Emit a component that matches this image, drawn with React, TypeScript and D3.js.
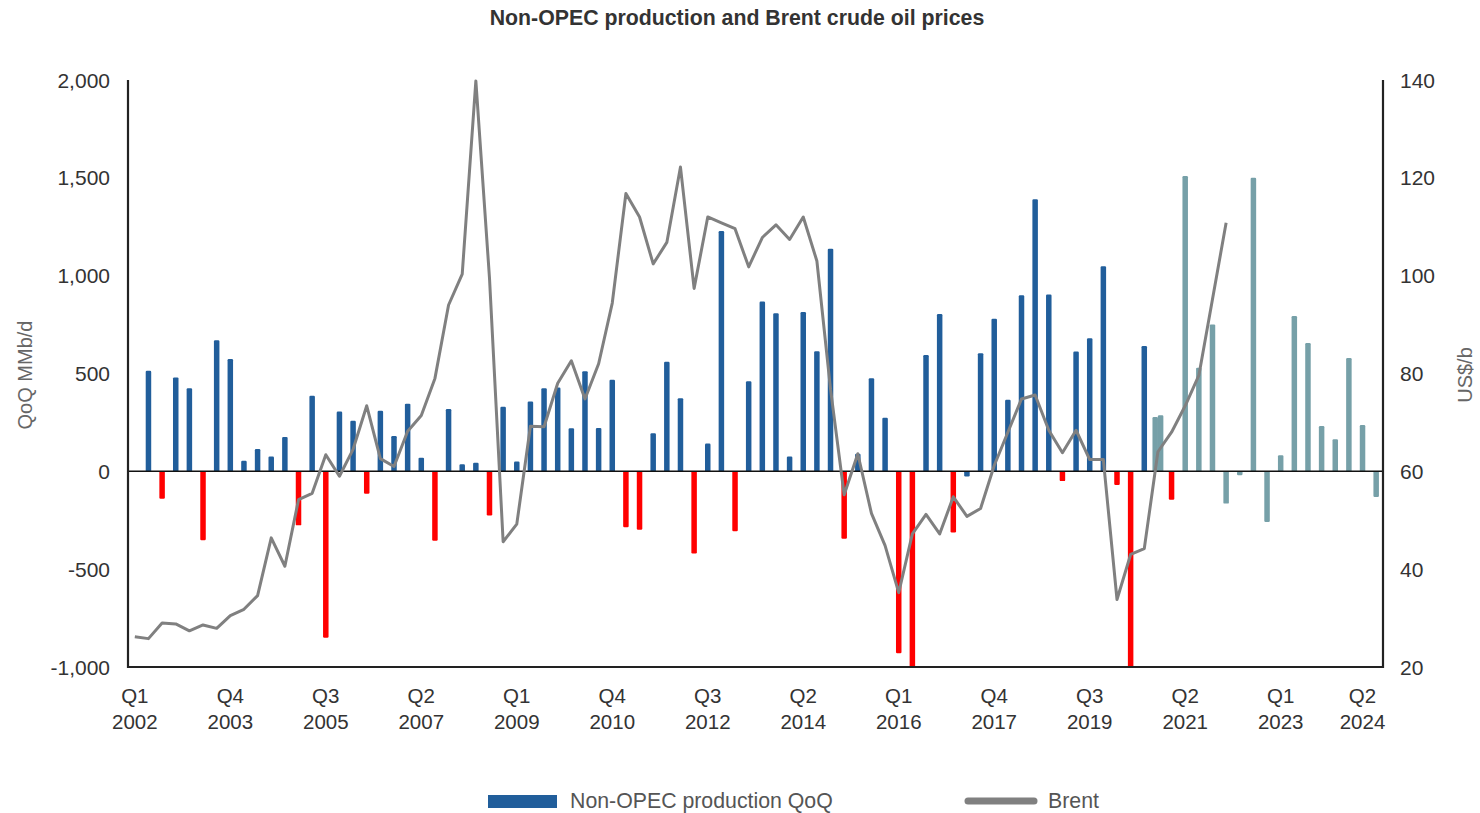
import * as d3 from "d3";
import {useRef, useEffect} from "react";

// quarters on the category axis, Q1 2002 .. Q4 2024
const years = d3.range(2002, 2025);
const quarters = years.flatMap(y => [1, 2, 3, 4].map(q => `Q${q} ${y}`));

// Non-OPEC production, quarter-on-quarter change (kb/d), Q2 2002 .. Q1 2021
const productionStart = "Q2 2002";
const production = [
    514, -140, 480, 424, -352, 670, 574, 54, 114, 76,
    176, -276, 386, -850, 306, 258, -114, 310, 180, 346,
    70, -355, 318, 36, 44, -226, 330, 50, 357, 424,
    428, 220, 512, 222, 468, -286, -298, 194, 560, 374,
    -420, 142, 1228, -306, 460, 868, 808, 76, 814, 614,
    1138, -344, 90, 476, 274, -930, -1000, 594, 804, -312,
    -26, 604, 780, 366, 900, 1390, 904, -50, 612, 680,
    1048, -70, -1000, 640, 278, -145,
];
// outlook series, Q4 2020 .. Q4 2024
const outlookStart = "Q4 2020";
const outlook = [
    286, null, 1509, 530, 751, -165, -20, 1500, -259, 82,
    794, 656, 232, 164, 579, 237, -131,
];

// Brent, US$/b, Q1 2002 .. Q1 2022
const brentStart = "Q1 2002";
const brent = [
    26.2, 25.8, 29.0, 28.8, 27.4, 28.6, 27.9, 30.5, 31.8, 34.6,
    46.4, 40.6, 54.2, 55.5, 63.4, 59.0, 64.5, 73.4, 62.6, 61.0,
    68.2, 71.4, 79.0, 94.0, 100.3, 139.8, 99.5, 45.6, 49.2, 69.2,
    69.1, 78.0, 82.6, 74.8, 82.0, 94.4, 116.8, 112.0, 102.4, 106.8,
    122.2, 97.4, 112.0, 110.8, 109.6, 101.8, 107.8, 110.4, 107.4, 112.0,
    103.0, 76.8, 55.2, 63.6, 51.4, 44.8, 35.2, 47.2, 51.2, 47.2,
    54.8, 50.8, 52.4, 61.2, 68.0, 74.8, 75.6, 68.4, 63.8, 68.4,
    62.4, 62.4, 33.8, 43.0, 44.2, 64.0, 68.0, 73.4, 79.6, 95.2,
    110.8,
];

// x-axis labels: [category, text]
const xTicks = [
    ["Q1 2002", "Q1 2002"], ["Q4 2003", "Q4 2003"], ["Q3 2005", "Q3 2005"],
    ["Q2 2007", "Q2 2007"], ["Q1 2009", "Q1 2009"], ["Q4 2010", "Q4 2010"],
    ["Q3 2012", "Q3 2012"], ["Q2 2014", "Q2 2014"], ["Q1 2016", "Q1 2016"],
    ["Q4 2017", "Q4 2017"], ["Q3 2019", "Q3 2019"], ["Q2 2021", "Q2 2021"],
    ["Q1 2023", "Q1 2023"], ["Q3 2024", "Q2 2024"],
];
const leftTicks = [-1000, -500, 0, 500, 1000, 1500, 2000];
const rightTicks = [20, 40, 60, 80, 100, 120, 140];

const BLUE = "#215e9b";
const RED = "#ff0000";
const TEAL = "#76a0a8";
const GREY = "#808080";
const FONT = "'Liberation Sans', Arial, Helvetica, sans-serif";

const App = () => {
    const ref = useRef(null);

    useEffect(() => {
        const width = 1480, height = 813;
        const left = 128, right = 1383, top = 80, bottom = 667;

        const root = d3.select(ref.current);
        root.selectAll("*").remove();
        const svg = root.append("svg")
            .attr("width", width)
            .attr("height", height)
            .style("position", "absolute")
            .style("left", 0)
            .style("top", 0)
            .attr("font-family", FONT);

        const x = d3.scaleBand(quarters, [left, right]);
        const cx = q => x(q) + x.bandwidth() / 2;
        const y = d3.scaleLinear([-1000, 2000], [bottom, top]);
        const y2 = d3.scaleLinear([20, 140], [bottom, top]);
        const fmt = d3.formatLocale({decimal: ".", thousands: ",", grouping: [3], currency: ["$", ""], minus: "-"}).format(",");

        const i0 = quarters.indexOf(productionStart);
        const prod = production.map((v, i) => ({q: quarters[i0 + i], v}));
        const o0 = quarters.indexOf(outlookStart);
        const out = outlook.map((v, i) => ({q: quarters[o0 + i], v})).filter(d => d.v != null);
        const b0 = quarters.indexOf(brentStart);
        const line = brent.map((v, i) => ({q: quarters[b0 + i], v}));

        // quarters with a bar in both series get the two bars side by side
        const both = new Set(out.map(d => d.q).filter(q => prod.some(p => p.q === q)));
        const barW = 5.5, dodge = 2.7;

        svg.append("text")
            .attr("x", 737).attr("y", 19)
            .attr("text-anchor", "middle").attr("dominant-baseline", "middle")
            .attr("font-size", 21.3).attr("font-weight", "bold").attr("fill", "#333")
            .text("Non-OPEC production and Brent crude oil prices");

        const colour = d => {
            if (d.v < -40) return RED;
            if (quarters.indexOf(d.q) >= o0) return TEAL;
            return BLUE;
        };

        const bars = svg.append("g");
        bars.selectAll("rect.p")
            .data(prod)
            .join("rect")
            .attr("class", "p")
            .attr("x", d => cx(d.q) - barW / 2 - (both.has(d.q) ? dodge : 0))
            .attr("width", barW)
            .attr("y", d => y(Math.max(0, d.v)))
            .attr("height", d => Math.abs(y(d.v) - y(0)))
            .attr("rx", 1.2)
            .attr("fill", colour);
        bars.selectAll("rect.o")
            .data(out)
            .join("rect")
            .attr("class", "o")
            .attr("x", d => cx(d.q) - barW / 2 + (both.has(d.q) ? dodge : 0))
            .attr("width", barW)
            .attr("y", d => y(Math.max(0, d.v)))
            .attr("height", d => Math.abs(y(d.v) - y(0)))
            .attr("rx", 1.2)
            .attr("fill", TEAL);

        // zero line
        svg.append("line")
            .attr("x1", left).attr("x2", right)
            .attr("y1", y(0)).attr("y2", y(0))
            .attr("stroke", "#111").attr("stroke-width", 1.5);

        svg.append("path")
            .datum(line)
            .attr("fill", "none")
            .attr("stroke", GREY)
            .attr("stroke-width", 3)
            .attr("stroke-linejoin", "round")
            .attr("d", d3.line(d => cx(d.q), d => y2(d.v)));

        // frame: left, right, bottom
        svg.append("path")
            .attr("d", `M${left},${top}V${bottom}H${right}V${top}`)
            .attr("fill", "none")
            .attr("stroke", "#222")
            .attr("stroke-width", 2.2);

        svg.append("g")
            .selectAll("text")
            .data(leftTicks)
            .join("text")
            .attr("x", 110).attr("y", d => y(d) + 2)
            .attr("text-anchor", "end").attr("dominant-baseline", "middle")
            .attr("font-size", 21).attr("fill", "#333")
            .text(d => fmt(d));

        svg.append("g")
            .selectAll("text")
            .data(rightTicks)
            .join("text")
            .attr("x", 1400).attr("y", d => y2(d) + 2)
            .attr("dominant-baseline", "middle")
            .attr("font-size", 21).attr("fill", "#333")
            .text(d => d);

        const xl = svg.append("g")
            .selectAll("text")
            .data(xTicks)
            .join("text")
            .attr("text-anchor", "middle")
            .attr("font-size", 20.5).attr("fill", "#333");
        xl.append("tspan").attr("x", d => cx(d[0])).attr("y", 703).text(d => d[1].split(" ")[0]);
        xl.append("tspan").attr("x", d => cx(d[0])).attr("y", 729).text(d => d[1].split(" ")[1]);

        svg.append("text")
            .attr("transform", "translate(32,375) rotate(-90)")
            .attr("text-anchor", "middle")
            .attr("font-size", 20).attr("fill", "#666")
            .text("QoQ MMb/d");
        svg.append("text")
            .attr("transform", "translate(1472,375) rotate(-90)")
            .attr("text-anchor", "middle")
            .attr("font-size", 20).attr("fill", "#666")
            .text("US$/b");

        // legend
        const lg = svg.append("g").attr("font-size", 21.3).attr("fill", "#555");
        lg.append("rect").attr("x", 488).attr("y", 795).attr("width", 69).attr("height", 13).attr("fill", BLUE);
        lg.append("text").attr("x", 570).attr("y", 802).attr("dominant-baseline", "middle").text("Non-OPEC production QoQ");
        lg.append("line").attr("x1", 968).attr("x2", 1034).attr("y1", 801).attr("y2", 801)
            .attr("stroke", GREY).attr("stroke-width", 7).attr("stroke-linecap", "round");
        lg.append("text").attr("x", 1048).attr("y", 802).attr("dominant-baseline", "middle").text("Brent");
    }, []);

    return <div ref={ref}></div>;
};

export default App;
